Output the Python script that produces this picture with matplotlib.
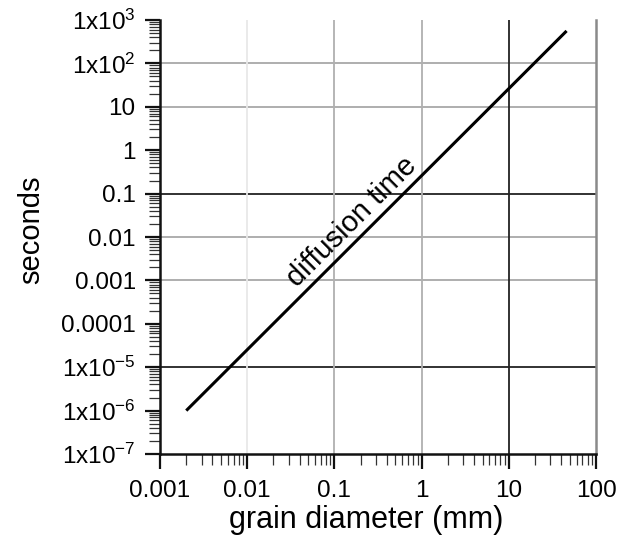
import matplotlib
matplotlib.use("Agg")
import matplotlib.pyplot as plt
from matplotlib.ticker import LogLocator, FixedLocator, NullFormatter

plt.rcParams['font.family'] = ['Liberation Sans', 'DejaVu Sans']
plt.rcParams['mathtext.fontset'] = 'custom'
plt.rcParams['mathtext.rm'] = 'Liberation Sans'
plt.rcParams['mathtext.it'] = 'Liberation Sans'

# Data
grain_mm = [0.002, 46]
seconds = [1.0e-6, 560]

x_ticks = [0.001, 0.01, 0.1, 1, 10, 100]
x_labels = ["0.001", "0.01", "0.1", "1", "10", "100"]
y_ticks = [1e-7, 1e-6, 1e-5, 1e-4, 1e-3, 1e-2, 1e-1, 1, 10, 1e2, 1e3]
y_labels = [r"1x10$^{-7}$", r"1x10$^{-6}$", r"1x10$^{-5}$", "0.0001", "0.001",
            "0.01", "0.1", "1", "10", r"1x10$^{2}$", r"1x10$^{3}$"]

black_h = [0.1, 1e-5]
gray_h = [0.01, 0.001, 10, 1e2]
black_v = [10]
gray_v = [0.1, 1]
faint_v = [0.01]
edge_v = [100]

label_text = "diffusion time"
label_pos = (0.160, 0.0225)

fig = plt.figure(figsize=(6.26, 5.42), dpi=100)
ax = fig.add_axes([160/626, 1 - 454/542, 436/626, 434/542])
ax.set_xscale('log')
ax.set_yscale('log')
ax.set_xlim(0.001, 100)
ax.set_ylim(1e-7, 1e3)

for v in black_h:
    ax.axhline(v, color='#222222', lw=1.3, zorder=1)
for v in gray_h:
    ax.axhline(v, color='#a8a8a8', lw=1.3, zorder=1)
for v in black_v:
    ax.axvline(v, color='#222222', lw=1.3, zorder=1)
for v in gray_v:
    ax.axvline(v, color='#b0b0b0', lw=1.3, zorder=1)
for v in faint_v:
    ax.axvline(v, color='#e8e8e8', lw=1.3, zorder=1)
for v in edge_v:
    ax.axvline(v, color='#8a8a8a', lw=1.8, zorder=1, clip_on=False)

ax.plot(grain_mm, seconds, color='black', lw=2.2, zorder=3, solid_capstyle='butt')

ax.text(label_pos[0], label_pos[1], label_text, rotation=45, rotation_mode='anchor',
        ha='center', va='center', fontsize=21)

for s in ['top', 'right']:
    ax.spines[s].set_visible(False)
for s in ['left', 'bottom']:
    ax.spines[s].set_linewidth(1.8)
    ax.spines[s].set_color('#111111')

ax.xaxis.set_major_locator(FixedLocator(x_ticks))
ax.set_xticklabels(x_labels)
ax.yaxis.set_major_locator(FixedLocator(y_ticks))
ax.set_yticklabels(y_labels)
ax.xaxis.set_minor_locator(LogLocator(base=10, subs=range(2, 10), numticks=20))
ax.yaxis.set_minor_locator(LogLocator(base=10, subs=range(2, 10), numticks=20))
ax.xaxis.set_minor_formatter(NullFormatter())
ax.yaxis.set_minor_formatter(NullFormatter())

ax.tick_params(which='major', direction='out', length=10.5, width=1.6, color='#111111',
               labelsize=17.5)
ax.tick_params(which='minor', direction='out', length=8, width=0.9, color='#333333')
ax.tick_params(axis='x', which='major', pad=8)
ax.tick_params(axis='y', which='major', pad=7)

ax.set_xlabel("grain diameter (mm)", fontsize=22, va='center')
ax.xaxis.set_label_coords(0.472, -0.152)
ax.set_ylabel("seconds", fontsize=21, va='center')
ax.yaxis.set_label_coords(-0.295, 0.517)

fig.savefig("out.png", dpi=100)
